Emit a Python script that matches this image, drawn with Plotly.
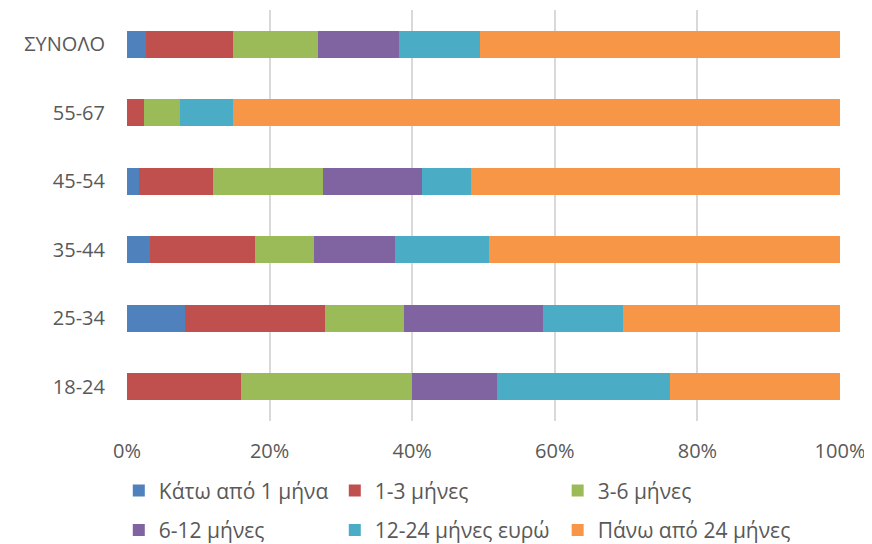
import plotly.graph_objects as go

categories = ["18-24", "25-34", "35-44", "45-54", "55-67", "ΣΥΝΟΛΟ"]
series_names = ["Κάτω από 1 μήνα", "1-3 μήνες", "3-6 μήνες",
                "6-12 μήνες", "12-24 μήνες ευρώ", "Πάνω από 24 μήνες"]
colors = ["#4F81BD", "#C0504D", "#9BBB59", "#8064A2", "#4BACC6", "#F79646"]

under_1 = [0.0, 8.2, 3.2, 1.7, 0.0, 2.7]
m1_3 = [16.0, 19.5, 14.7, 10.3, 2.4, 12.2]
m3_6 = [24.0, 11.2, 8.3, 15.5, 5.0, 11.9]
m6_12 = [11.9, 19.5, 11.4, 13.9, 0.0, 11.4]
m12_24 = [24.2, 11.1, 13.2, 6.9, 7.4, 11.3]
over_24 = [23.9, 30.5, 49.2, 51.7, 85.2, 50.5]

series_values = [under_1, m1_3, m3_6, m6_12, m12_24, over_24]
tick_vals = [0, 20, 40, 60, 80, 100]
tick_text = ["0%", "20%", "40%", "60%", "80%", "100%"]

FONT = "Open Sans"
GRAY = "#595959"

# legend assignment: columns 1-2 share a legend per row, column 3 gets its own
legend_ids = ["legend", "legend", "legend3", "legend2", "legend2", "legend4"]

fig = go.Figure()
for name, vals, col, lg in zip(series_names, series_values, colors, legend_ids):
    fig.add_trace(go.Bar(
        y=categories, x=vals, name=name, orientation="h",
        marker=dict(color=col, line=dict(width=0)),
        legend=lg,
        hovertemplate="%{y}: %{x}%<extra>" + name + "</extra>",
    ))

legend_common = dict(
    orientation="h", xanchor="left", yanchor="middle",
    traceorder="normal",
    font=dict(family=FONT, size=21, color=GRAY),
    itemwidth=30, bgcolor="rgba(0,0,0,0)",
)
fixed_w = dict(entrywidth=171, entrywidthmode="pixels")

X1 = -0.0115
X3 = 0.604
Y1 = -0.170
Y2 = -0.266

# page body has an 8px margin, so the figure is 8px smaller and margins shifted
fig.update_layout(
    barmode="stack",
    bargap=0.6,
    width=864, height=536,
    margin=dict(l=119, r=32, t=2, b=123, autoexpand=False),
    plot_bgcolor="white", paper_bgcolor="white",
    font=dict(family=FONT, size=20, color=GRAY),
    showlegend=True,
    legend=dict(x=X1, y=Y1, **fixed_w, **legend_common),
    legend2=dict(x=X1, y=Y2, **fixed_w, **legend_common),
    legend3=dict(x=X3, y=Y1, **legend_common),
    legend4=dict(x=X3, y=Y2, **legend_common),
    xaxis=dict(
        range=[0, 100], tickvals=tick_vals, ticktext=tick_text,
        showgrid=True, gridcolor="#D9D9D9", gridwidth=2,
        zeroline=False, showline=False, automargin=False,
        tickfont=dict(family=FONT, size=20, color=GRAY),
        ticks="", ticklabelstandoff=16, fixedrange=True,
    ),
    yaxis=dict(
        categoryorder="array", categoryarray=categories,
        showgrid=False, zeroline=False, showline=False, automargin=False,
        tickfont=dict(family=FONT, size=20, color=GRAY),
        ticks="", ticklabelstandoff=21, fixedrange=True,
    ),
)

fig.write_html("out.html")
